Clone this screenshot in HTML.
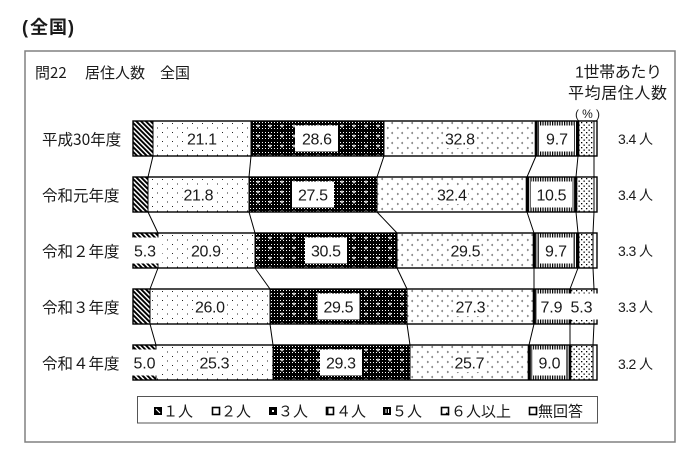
<!DOCTYPE html>
<html><head><meta charset="utf-8"><style>
html,body{margin:0;padding:0;background:#fff;}
svg{display:block;}
.n{font-family:"Liberation Sans",sans-serif;font-size:16px;fill:#1a1a1a;}
.j{font-family:"Liberation Sans","Noto Sans CJK JP",sans-serif;fill:#1a1a1a;}
</style></head><body>
<svg width="700" height="461" viewBox="0 0 700 461" xmlns="http://www.w3.org/2000/svg">
<defs>
<pattern id="p1" width="3.4" height="10" patternUnits="userSpaceOnUse" patternTransform="rotate(-45)"><rect width="3.4" height="10" fill="#fff"/><rect width="1.9" height="10" fill="#000"/></pattern>
<pattern id="p2" width="10" height="9" patternUnits="userSpaceOnUse"><rect width="10" height="9" fill="#fff"/><rect x="2" y="2" width="1" height="1" fill="#222"/><rect x="7" y="6.5" width="1" height="1" fill="#222"/></pattern>
<pattern id="pf" width="3" height="3" patternUnits="userSpaceOnUse"><rect width="3" height="3" fill="#000"/><rect x="1" y="1" width="1" height="1" fill="#fff"/></pattern>
<pattern id="p3" width="12" height="10" patternUnits="userSpaceOnUse"><rect width="12" height="10" fill="url(#pf)"/><path d="M6 3.5v3M4.5 5h3" stroke="#fff" stroke-width="1"/></pattern>
<pattern id="p4" width="10" height="10" patternUnits="userSpaceOnUse"><rect width="10" height="10" fill="#fff"/><path d="M3 1L1.5 2L3 3M7 6L8.5 7L7 8" stroke="#555" stroke-width="0.7" fill="none"/></pattern>
<pattern id="p5" width="2.4" height="4" patternUnits="userSpaceOnUse"><rect width="2.4" height="4" fill="#fff"/><rect width="1.2" height="4" fill="#000"/></pattern>
<pattern id="p6" width="5" height="5" patternUnits="userSpaceOnUse"><rect width="5" height="5" fill="#fff"/><rect x="1" y="1" width="1.3" height="1.3" fill="#000"/><rect x="3.5" y="3.5" width="1.3" height="1.3" fill="#000"/></pattern>
</defs>

<!-- Title -->
<text y="27.5" dominant-baseline="central" font-weight="bold" class="j" font-size="18"><tspan x="22">(</tspan><tspan x="30">全</tspan><tspan x="49">国</tspan><tspan x="68">)</tspan></text>

<!-- Frame -->
<rect x="25" y="51" width="650" height="391" fill="none" stroke="#808080" stroke-width="1.5"/>

<!-- Chart title -->
<text y="72" dominant-baseline="central" class="j" font-size="15" style="font-family:'Noto Sans CJK JP',sans-serif"><tspan x="35">問22</tspan><tspan x="85">居住人数</tspan><tspan x="160">全国</tspan></text>

<!-- Right header -->
<text x="575" y="73" dominant-baseline="central" class="j" font-size="16" textLength="87">1世帯あたり</text>
<text x="568" y="94" dominant-baseline="central" class="j" font-size="16" textLength="99">平均居住人数</text>
<text x="575" y="114" dominant-baseline="central" class="j" font-size="12" textLength="25">(%)</text>

<!-- Row labels -->
<g class="j" font-size="15.5" style="font-family:'Noto Sans CJK JP',sans-serif">
<text x="42" y="139" dominant-baseline="central">平成30年度</text>
<text x="42" y="195" dominant-baseline="central">令和元年度</text>
<text x="42" y="251" dominant-baseline="central">令和２年度</text>
<text x="42" y="307" dominant-baseline="central">令和３年度</text>
<text x="42" y="363" dominant-baseline="central">令和４年度</text>
</g>

<!-- Right values -->
<g class="j" font-size="14">
<text x="618" y="139" dominant-baseline="central" textLength="35">3.4 人</text>
<text x="618" y="195" dominant-baseline="central" textLength="35">3.4 人</text>
<text x="618" y="251" dominant-baseline="central" textLength="35">3.3 人</text>
<text x="618" y="307" dominant-baseline="central" textLength="35">3.3 人</text>
<text x="618" y="364" dominant-baseline="central" textLength="35">3.2 人</text>
</g>

<!-- Connectors -->
<path d="M153 156L148 177M251 156L249 177M384 156L377 177M536 156L527 177M578 156L576 177M594 156L594 177
M148 212L158 233M249 212L255 233M377 212L397 233M527 212L534 233M576 212L578 233M594 212L593 233
M158 268L150 289M255 268L270 289M397 268L407 289M534 268L534 289M578 268L570 289M593 268L594 289
M150 324L156 345M270 324L273 345M407 324L410 345M534 324L529 345M570 324L570 345M594 324L593 345" stroke="#000" stroke-width="1" fill="none"/>

<!-- Bar 1 -->
<g transform="translate(0,121)">
<rect x="133" width="20" height="35" fill="url(#p1)"/>
<rect x="153" width="98" height="35" fill="url(#p2)"/>
<rect x="251" width="133" height="35" fill="url(#p3)"/>
<rect x="384" width="152" height="35" fill="url(#p4)"/>
<rect x="536" width="42" height="35" fill="url(#p5)"/>
<rect x="578" width="16" height="35" fill="url(#p6)"/>
<rect x="594" width="3" height="35" fill="#fff"/>
<path d="M153 0v35M251 0v35M384 0v35M594 0v35" stroke="#000" stroke-width="1"/>
<path d="M536 0v35M578 0v35" stroke="#000" stroke-width="2.6"/>
<rect x="133" y="0" width="464" height="35" fill="none" stroke="#000" stroke-width="1.4"/>
<rect x="186" y="9" width="32" height="18" fill="#fff"/>
<rect x="444" y="9" width="32" height="18" fill="#fff"/>
<rect x="295" y="4.5" width="43" height="26" fill="#fff"/>
<rect x="540" y="4.5" width="34" height="26" fill="#fff"/>
<g class="n" text-anchor="middle">
<text x="202" y="23.5" textLength="30">21.1</text>
<text x="317" y="23.5" textLength="30">28.6</text>
<text x="460" y="23.5" textLength="30">32.8</text>
<text x="557" y="23.5" textLength="22">9.7</text>
</g>
</g>

<!-- Bar 2 -->
<g transform="translate(0,177)">
<rect x="133" width="15" height="35" fill="url(#p1)"/>
<rect x="148" width="101" height="35" fill="url(#p2)"/>
<rect x="249" width="128" height="35" fill="url(#p3)"/>
<rect x="377" width="150" height="35" fill="url(#p4)"/>
<rect x="527" width="49" height="35" fill="url(#p5)"/>
<rect x="576" width="18" height="35" fill="url(#p6)"/>
<rect x="594" width="3" height="35" fill="#fff"/>
<path d="M148 0v35M249 0v35M377 0v35M594 0v35" stroke="#000" stroke-width="1"/>
<path d="M527 0v35M576 0v35" stroke="#000" stroke-width="2.6"/>
<rect x="133" y="0" width="464" height="35" fill="none" stroke="#000" stroke-width="1.4"/>
<rect x="182.5" y="9" width="32" height="18" fill="#fff"/>
<rect x="436" y="9" width="32" height="18" fill="#fff"/>
<rect x="292" y="4.5" width="42" height="26" fill="#fff"/>
<rect x="531" y="4.5" width="41" height="26" fill="#fff"/>
<g class="n" text-anchor="middle">
<text x="198.5" y="23.5" textLength="30">21.8</text>
<text x="313" y="23.5" textLength="30">27.5</text>
<text x="452" y="23.5" textLength="30">32.4</text>
<text x="551.5" y="23.5" textLength="30">10.5</text>
</g>
</g>

<!-- Bar 3 -->
<g transform="translate(0,233)">
<rect x="133" width="25" height="35" fill="url(#p1)"/>
<rect x="158" width="97" height="35" fill="url(#p2)"/>
<rect x="255" width="142" height="35" fill="url(#p3)"/>
<rect x="397" width="137" height="35" fill="url(#p4)"/>
<rect x="534" width="44" height="35" fill="url(#p5)"/>
<rect x="578" width="15" height="35" fill="url(#p6)"/>
<rect x="593" width="4" height="35" fill="#fff"/>
<path d="M158 0v35M255 0v35M397 0v35M593 0v35" stroke="#000" stroke-width="1"/>
<path d="M534 0v35M578 0v35" stroke="#000" stroke-width="2.6"/>
<rect x="133" y="0" width="464" height="35" fill="none" stroke="#000" stroke-width="1.4"/>
<rect x="190" y="9" width="32" height="18" fill="#fff"/>
<rect x="449.5" y="9" width="32" height="18" fill="#fff"/>
<rect x="128.5" y="4.5" width="34" height="26" fill="#fff"/>
<rect x="305" y="4.5" width="42" height="26" fill="#fff"/>
<rect x="539" y="4.5" width="34" height="26" fill="#fff"/>
<g class="n" text-anchor="middle">
<text x="145" y="23.5" textLength="22">5.3</text>
<text x="206" y="23.5" textLength="30">20.9</text>
<text x="326" y="23.5" textLength="30">30.5</text>
<text x="465.5" y="23.5" textLength="30">29.5</text>
<text x="556" y="23.5" textLength="22">9.7</text>
</g>
</g>

<!-- Bar 4 -->
<g transform="translate(0,289)">
<rect x="133" width="17" height="35" fill="url(#p1)"/>
<rect x="150" width="120" height="35" fill="url(#p2)"/>
<rect x="270" width="137" height="35" fill="url(#p3)"/>
<rect x="407" width="127" height="35" fill="url(#p4)"/>
<rect x="534" width="36" height="35" fill="url(#p5)"/>
<rect x="570" width="24" height="35" fill="url(#p6)"/>
<rect x="594" width="3" height="35" fill="#fff"/>
<path d="M150 0v35M270 0v35M407 0v35M594 0v35" stroke="#000" stroke-width="1"/>
<path d="M534 0v35M570 0v35" stroke="#000" stroke-width="2.6"/>
<rect x="133" y="0" width="464" height="35" fill="none" stroke="#000" stroke-width="1.4"/>
<rect x="194" y="9" width="32" height="18" fill="#fff"/>
<rect x="454.5" y="9" width="32" height="18" fill="#fff"/>
<rect x="317.5" y="4.5" width="42" height="26" fill="#fff"/>
<rect x="537" y="4.5" width="31" height="26" fill="#fff"/>
<rect x="566" y="4.5" width="34" height="26" fill="#fff"/>
<g class="n" text-anchor="middle">
<text x="210" y="23.5" textLength="30">26.0</text>
<text x="338.5" y="23.5" textLength="30">29.5</text>
<text x="470.5" y="23.5" textLength="30">27.3</text>
<text x="551.5" y="23.5" textLength="22">7.9</text>
<text x="581.5" y="23.5" textLength="22">5.3</text>
</g>
</g>

<!-- Bar 5 -->
<g transform="translate(0,345)">
<rect x="133" width="23" height="35" fill="url(#p1)"/>
<rect x="156" width="117" height="35" fill="url(#p2)"/>
<rect x="273" width="137" height="35" fill="url(#p3)"/>
<rect x="410" width="119" height="35" fill="url(#p4)"/>
<rect x="529" width="41" height="35" fill="url(#p5)"/>
<rect x="570" width="23" height="35" fill="url(#p6)"/>
<rect x="593" width="4" height="35" fill="#fff"/>
<path d="M156 0v35M273 0v35M410 0v35M593 0v35" stroke="#000" stroke-width="1"/>
<path d="M529 0v35M570 0v35" stroke="#000" stroke-width="2.6"/>
<rect x="133" y="0" width="464" height="35" fill="none" stroke="#000" stroke-width="1.4"/>
<rect x="198.5" y="9" width="32" height="18" fill="#fff"/>
<rect x="453.5" y="9" width="32" height="18" fill="#fff"/>
<rect x="127.5" y="4.5" width="34" height="26" fill="#fff"/>
<rect x="320" y="4.5" width="42" height="26" fill="#fff"/>
<rect x="533" y="4.5" width="33" height="26" fill="#fff"/>
<g class="n" text-anchor="middle">
<text x="144.5" y="23.5" textLength="22">5.0</text>
<text x="214.5" y="23.5" textLength="30">25.3</text>
<text x="341" y="23.5" textLength="30">29.3</text>
<text x="469.5" y="23.5" textLength="30">25.7</text>
<text x="549.5" y="23.5" textLength="22">9.0</text>
</g>
</g>

<!-- Legend -->
<rect x="137.5" y="396.5" width="460" height="26.5" fill="none" stroke="#555" stroke-width="1"/>
<g stroke="#000" stroke-width="1">
<rect x="154.5" y="407.5" width="7" height="7" fill="#000"/>
<path d="M156 409L160 413" stroke="#fff" stroke-width="1.2"/>
<rect x="212.5" y="407.5" width="7" height="7" fill="#fff" stroke-width="1.6"/>
<rect x="269.5" y="407.5" width="7" height="7" fill="#000"/>
<rect x="272" y="410" width="2" height="2" fill="#fff" stroke="none"/>
<rect x="326.5" y="407.5" width="7" height="7" fill="#fff" stroke-width="1.6"/>
<path d="M327.5 408v6" stroke-width="2"/>
<rect x="383.5" y="407.5" width="7" height="7" fill="#000"/>
<path d="M386 409v4M388.5 409v4" stroke="#fff" stroke-width="1"/>
<rect x="441.5" y="407.5" width="7" height="7" fill="#fff" stroke-width="1.6"/>
<path d="M446 413l3 2" stroke-width="1.4"/>
<rect x="529.5" y="407.5" width="7" height="7" fill="#fff" stroke-width="1.6"/>
</g>
<g class="j" font-size="15" style="font-family:'Noto Sans CJK JP',sans-serif">
<text x="163" y="411" dominant-baseline="central">１人</text>
<text x="221" y="411" dominant-baseline="central">２人</text>
<text x="278" y="411" dominant-baseline="central">３人</text>
<text x="336" y="411" dominant-baseline="central">４人</text>
<text x="392" y="411" dominant-baseline="central">５人</text>
<text x="451" y="411" dominant-baseline="central">６人以上</text>
<text x="538" y="411" dominant-baseline="central">無回答</text>
</g>
</svg>
</body></html>
